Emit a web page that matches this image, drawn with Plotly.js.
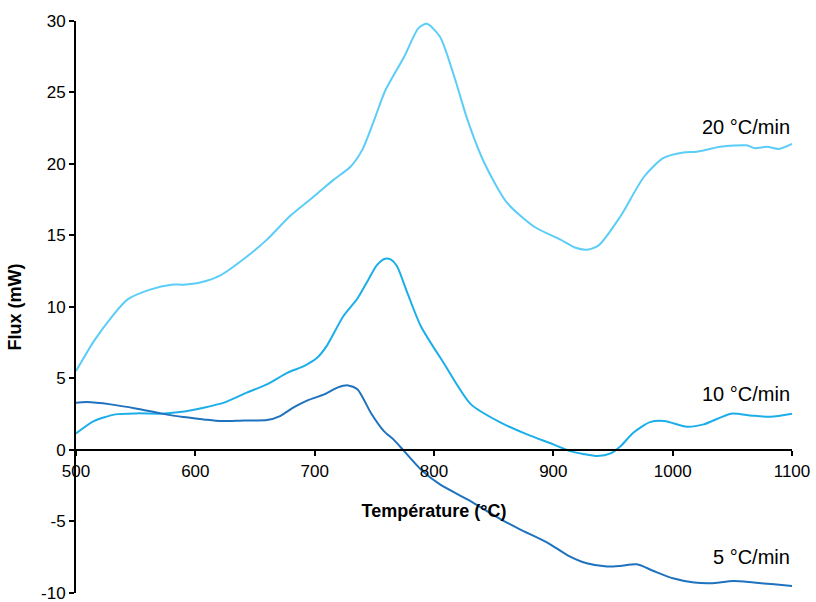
<!DOCTYPE html>
<html>
<head>
<meta charset="utf-8">
<script src="https://cdn.plot.ly/plotly-3.0.1.min.js"></script>
<style>html,body{margin:0;padding:0;background:#fff;}#chart{width:816px;height:602px;}</style>
</head>
<body>
<div id="chart"></div>
<script>
// 20 °C/min
const temp20 = [500, 515, 530, 543, 562, 580, 590, 604, 621, 643, 660, 680, 699, 716, 730, 740, 750, 759, 775, 787, 794, 805, 817, 828, 842, 861, 884, 906, 918, 928, 938, 956, 976, 992, 1009, 1020, 1040, 1062, 1069, 1079, 1089, 1100];
const flux20 = [5.5, 7.6, 9.3, 10.5, 11.2, 11.55, 11.55, 11.7, 12.2, 13.5, 14.7, 16.4, 17.7, 18.9, 19.8, 21.0, 23.1, 25.1, 27.5, 29.5, 29.8, 28.9, 26.1, 23.1, 20.1, 17.3, 15.6, 14.7, 14.15, 14.0, 14.3, 16.3, 19.1, 20.4, 20.8, 20.85, 21.2, 21.3, 21.1, 21.2, 21.05, 21.4];
// 10 °C/min
const temp10 = [500, 515, 533, 551, 571, 587, 607, 624, 643, 660, 677, 691, 702, 710, 724, 736, 745, 752, 759, 764, 769, 778, 789, 808, 831, 856, 878, 900, 914, 925, 937, 948, 957, 967, 981, 993, 1012, 1026, 1049, 1065, 1082, 1100];
const flux10 = [1.14, 2.0, 2.47, 2.54, 2.52, 2.63, 2.94, 3.29, 3.99, 4.57, 5.38, 5.85, 6.43, 7.25, 9.34, 10.6, 11.9, 12.9, 13.36, 13.3, 12.84, 10.9, 8.64, 6.08, 3.17, 1.89, 1.07, 0.37, -0.1, -0.3, -0.45, -0.26, 0.3, 1.19, 1.93, 2.0, 1.6, 1.77, 2.52, 2.4, 2.3, 2.52];
// 5 °C/min
const temp5 = [500, 509, 529, 551, 571, 590, 607, 621, 641, 660, 671, 682, 694, 708, 719, 728, 736, 747, 758, 766, 775, 789, 805, 828, 856, 872, 895, 912, 928, 945, 956, 970, 984, 1001, 1018, 1032, 1051, 1068, 1085, 1100];
const flux5 = [3.29, 3.33, 3.17, 2.87, 2.54, 2.28, 2.12, 2.0, 2.05, 2.07, 2.35, 2.94, 3.45, 3.87, 4.34, 4.5, 4.22, 2.59, 1.3, 0.72, -0.1, -1.38, -2.43, -3.48, -4.87, -5.57, -6.5, -7.39, -7.95, -8.18, -8.14, -8.02, -8.49, -9.02, -9.3, -9.35, -9.19, -9.3, -9.42, -9.54];

const seriesNames = ["20 °C/min", "10 °C/min", "5 °C/min"];
const labelY = [22.6, 3.87, -7.53];
const yTickVals = [-10, -5, 0, 5, 10, 15, 20, 25, 30];
const yTickText = ["-10", "-5", "0", "5", "10", "15", "20", "25", "30"];
const xTickVals = [500, 600, 700, 800, 900, 1000, 1100];

const colors = ["#5ccdf7", "#1caee8", "#1f72be"];
const font = "Liberation Sans, Arial, sans-serif";

const traces = [
  {x: temp20, y: flux20, name: seriesNames[0], line: {color: colors[0], width: 2, shape: "spline", smoothing: 0.7}},
  {x: temp10, y: flux10, name: seriesNames[1], line: {color: colors[1], width: 2, shape: "spline", smoothing: 0.7}},
  {x: temp5, y: flux5, name: seriesNames[2], line: {color: colors[2], width: 2, shape: "spline", smoothing: 0.7}}
].map(t => Object.assign({type: "scatter", mode: "lines", hoverinfo: "skip"}, t));

const annotations = seriesNames.map((n, i) => ({
  x: 1100, y: labelY[i], xref: "x", yref: "y", text: n, showarrow: false,
  xanchor: "right", yanchor: "middle", font: {family: font, size: 20, color: "#000"}
}));

const layout = {
  width: 816, height: 602,
  margin: {l: 76, r: 24, t: 21, b: 9},
  paper_bgcolor: "#fff", plot_bgcolor: "#fff",
  showlegend: false,
  font: {family: font, size: 17, color: "#000"},
  xaxis: {
    range: [500, 1100], tickvals: xTickVals, anchor: "free", position: 0.2495,
    showline: true, linecolor: "#000", linewidth: 2, ticks: "outside", ticklen: 5, tickwidth: 2, tickcolor: "#000",
    showgrid: false, zeroline: false,
    tickfont: {family: font, size: 17, color: "#000"},
    title: {text: "Température (°C)", font: {family: font, size: 18, color: "#000", weight: "bold"}, standoff: 24}
  },
  yaxis: {
    range: [-10.03, 30], tickvals: yTickVals, ticktext: yTickText, ticklabeloverflow: "allow",
    showline: true, linecolor: "#000", linewidth: 2, ticks: "outside", ticklen: 5, tickwidth: 2, tickcolor: "#000",
    showgrid: false, zeroline: false,
    tickfont: {family: font, size: 17, color: "#000"},
    title: {text: "Flux (mW)", font: {family: font, size: 18, color: "#000", weight: "bold"}, standoff: 15}
  },
  annotations: annotations
};

Plotly.newPlot("chart", traces, layout, {staticPlot: true, displayModeBar: false});
</script>
</body>
</html>
